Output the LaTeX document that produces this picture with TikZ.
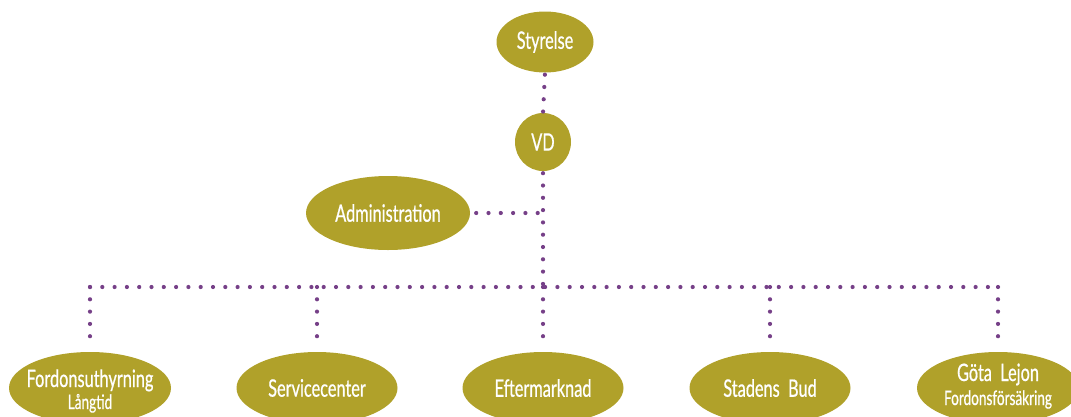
\documentclass[tikz,border=0pt]{standalone}
\usepackage{fontspec}
\newfontfamily\orgfont{Lato}[FakeStretch=0.68,FakeBold=0.6]
\usetikzlibrary{shapes.geometric}
\definecolor{olive}{RGB}{176,161,42}
\definecolor{dotpurple}{RGB}{118,64,136}

\begin{document}
\begin{tikzpicture}[x=1pt,y=-1pt,
    unit/.style={ellipse,fill=olive,text=white,inner sep=0pt,align=center,
      font=\orgfont\fontsize{24}{26}\selectfont},
    sub/.style={font=\orgfont\fontsize{20}{22}\selectfont},
    link/.style={dotpurple,line width=4.2pt,line cap=round,dash pattern=on 0pt off 12.3pt}]

    \useasboundingbox (0,0) rectangle (1071,416);
    \clip (0,0) rectangle (1071,416);

    % top
    \node[unit,minimum width=97,minimum height=61] (styrelse) at (545,42) {Styrelse};
    \node[unit,minimum width=56,minimum height=58] (vd) at (543,142) {VD};
    \node[unit,minimum width=164,minimum height=74] (adm) at (388,213) {Administration};
    \coordinate (hub) at (543,287);

    % bottom row
    \node[unit,minimum width=162,minimum height=72] (uthyr) at (90,388) {};
    \node[unit,minimum width=161,minimum height=72] (service) at (317,388) {Servicecenter};
    \node[unit,minimum width=161,minimum height=72] (efter) at (543,388) {Eftermarknad};
    \node[unit,minimum width=161,minimum height=72] (bud) at (770,388) {Stadens\ \ Bud};
    \node[unit,minimum width=162,minimum height=72] (lejon) at (998,388) {};

    % two-line labels
    \node[unit,fill=none,anchor=base] (uthyr1) at (90,387) {Fordonsuthyrning};
    \node[unit,fill=none,sub,anchor=base] (uthyr2) at (90,409) {Långtid};
    \node[unit,fill=none,anchor=base] (lejon1) at (998,381) {Göta\ \ Lejon};
    \node[unit,fill=none,sub,anchor=base] (lejon2) at (998,405) {Fordonsförsäkring};

    % connectors
    \draw[link,shorten <=2pt] (styrelse.south) -- (vd.north);
    \draw[link,shorten <=2pt] (vd.south) -- (hub);
    \draw[link,shorten <=6pt] (adm.east) -- (adm.east -| vd.south);
    \draw[link] (uthyr |- hub) -- (lejon |- hub);
    \foreach \n in {uthyr,service,efter,bud,lejon}
      \draw[link,shorten >=7pt] (\n |- hub) -- (\n.north);
\end{tikzpicture}
\end{document}
